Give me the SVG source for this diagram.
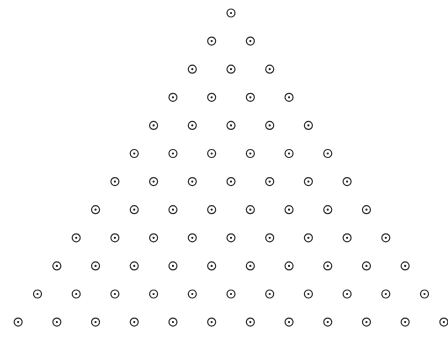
<svg xmlns="http://www.w3.org/2000/svg" xmlns:xlink="http://www.w3.org/1999/xlink" width="448" height="338" viewBox="0 0 448 338">
<defs>
<style>
.ring{fill:none;stroke:#333;stroke-width:1.2}
.dot{fill:#222}
</style>
<g id="c"><circle class="ring" cx="0" cy="0" r="4"/><circle class="dot" cx="0" cy="0" r="1.1"/></g>
</defs>
<rect width="448" height="338" fill="#fff"/>
<g id="connectors"/>
<g id="row0" transform="translate(231,13)">
<g id="n0_0"><use href="#c" x="0"/></g>
</g>
<g id="row1" transform="translate(211.65,41.1)">
<g id="n1_0"><use href="#c" x="0"/></g><g id="n1_1"><use href="#c" x="38.7"/></g>
</g>
<g id="row2" transform="translate(192.3,69.2)">
<g id="n2_0"><use href="#c" x="0"/></g><g id="n2_1"><use href="#c" x="38.7"/></g><g id="n2_2"><use href="#c" x="77.4"/></g>
</g>
<g id="row3" transform="translate(172.95,97.3)">
<g id="n3_0"><use href="#c" x="0"/></g><g id="n3_1"><use href="#c" x="38.7"/></g><g id="n3_2"><use href="#c" x="77.4"/></g><g id="n3_3"><use href="#c" x="116.1"/></g>
</g>
<g id="row4" transform="translate(153.6,125.4)">
<g id="n4_0"><use href="#c" x="0"/></g><g id="n4_1"><use href="#c" x="38.7"/></g><g id="n4_2"><use href="#c" x="77.4"/></g><g id="n4_3"><use href="#c" x="116.1"/></g><g id="n4_4"><use href="#c" x="154.8"/></g>
</g>
<g id="row5" transform="translate(134.25,153.5)">
<g id="n5_0"><use href="#c" x="0"/></g><g id="n5_1"><use href="#c" x="38.7"/></g><g id="n5_2"><use href="#c" x="77.4"/></g><g id="n5_3"><use href="#c" x="116.1"/></g><g id="n5_4"><use href="#c" x="154.8"/></g><g id="n5_5"><use href="#c" x="193.5"/></g>
</g>
<g id="row6" transform="translate(114.9,181.6)">
<g id="n6_0"><use href="#c" x="0"/></g><g id="n6_1"><use href="#c" x="38.7"/></g><g id="n6_2"><use href="#c" x="77.4"/></g><g id="n6_3"><use href="#c" x="116.1"/></g><g id="n6_4"><use href="#c" x="154.8"/></g><g id="n6_5"><use href="#c" x="193.5"/></g><g id="n6_6"><use href="#c" x="232.2"/></g>
</g>
<g id="row7" transform="translate(95.55,209.7)">
<g id="n7_0"><use href="#c" x="0"/></g><g id="n7_1"><use href="#c" x="38.7"/></g><g id="n7_2"><use href="#c" x="77.4"/></g><g id="n7_3"><use href="#c" x="116.1"/></g><g id="n7_4"><use href="#c" x="154.8"/></g><g id="n7_5"><use href="#c" x="193.5"/></g><g id="n7_6"><use href="#c" x="232.2"/></g><g id="n7_7"><use href="#c" x="270.9"/></g>
</g>
<g id="row8" transform="translate(76.2,237.8)">
<g id="n8_0"><use href="#c" x="0"/></g><g id="n8_1"><use href="#c" x="38.7"/></g><g id="n8_2"><use href="#c" x="77.4"/></g><g id="n8_3"><use href="#c" x="116.1"/></g><g id="n8_4"><use href="#c" x="154.8"/></g><g id="n8_5"><use href="#c" x="193.5"/></g><g id="n8_6"><use href="#c" x="232.2"/></g><g id="n8_7"><use href="#c" x="270.9"/></g><g id="n8_8"><use href="#c" x="309.6"/></g>
</g>
<g id="row9" transform="translate(56.85,265.9)">
<g id="n9_0"><use href="#c" x="0"/></g><g id="n9_1"><use href="#c" x="38.7"/></g><g id="n9_2"><use href="#c" x="77.4"/></g><g id="n9_3"><use href="#c" x="116.1"/></g><g id="n9_4"><use href="#c" x="154.8"/></g><g id="n9_5"><use href="#c" x="193.5"/></g><g id="n9_6"><use href="#c" x="232.2"/></g><g id="n9_7"><use href="#c" x="270.9"/></g><g id="n9_8"><use href="#c" x="309.6"/></g><g id="n9_9"><use href="#c" x="348.3"/></g>
</g>
<g id="row10" transform="translate(37.5,294)">
<g id="n10_0"><use href="#c" x="0"/></g><g id="n10_1"><use href="#c" x="38.7"/></g><g id="n10_2"><use href="#c" x="77.4"/></g><g id="n10_3"><use href="#c" x="116.1"/></g><g id="n10_4"><use href="#c" x="154.8"/></g><g id="n10_5"><use href="#c" x="193.5"/></g><g id="n10_6"><use href="#c" x="232.2"/></g><g id="n10_7"><use href="#c" x="270.9"/></g><g id="n10_8"><use href="#c" x="309.6"/></g><g id="n10_9"><use href="#c" x="348.3"/></g><g id="n10_10"><use href="#c" x="387"/></g>
</g>
<g id="row11" transform="translate(18.15,322.1)">
<g id="n11_0"><use href="#c" x="0"/></g><g id="n11_1"><use href="#c" x="38.7"/></g><g id="n11_2"><use href="#c" x="77.4"/></g><g id="n11_3"><use href="#c" x="116.1"/></g><g id="n11_4"><use href="#c" x="154.8"/></g><g id="n11_5"><use href="#c" x="193.5"/></g><g id="n11_6"><use href="#c" x="232.2"/></g><g id="n11_7"><use href="#c" x="270.9"/></g><g id="n11_8"><use href="#c" x="309.6"/></g><g id="n11_9"><use href="#c" x="348.3"/></g><g id="n11_10"><use href="#c" x="387"/></g><g id="n11_11"><use href="#c" x="425.7"/></g>
</g>
</svg>
